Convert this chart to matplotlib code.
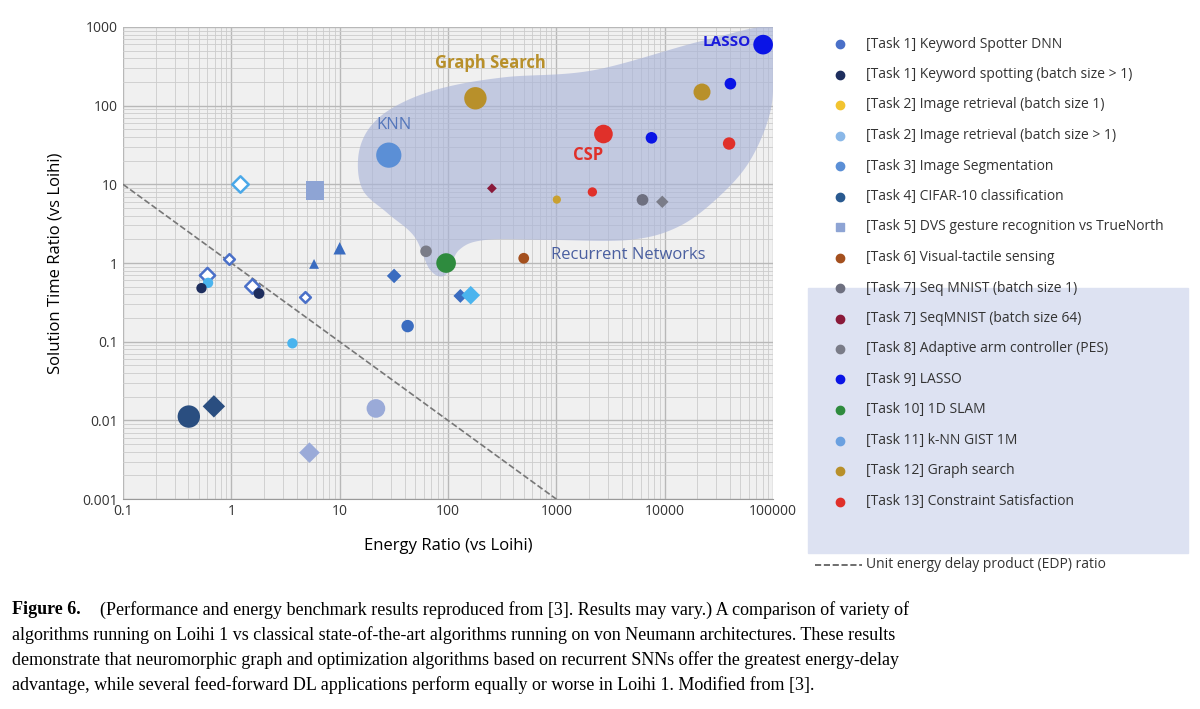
import numpy as np
import matplotlib.pyplot as plt
from matplotlib.lines import Line2D

plt.rcParams['font.family'] = ['Open Sans', 'DejaVu Sans']

# data points: energy ratio, time ratio, colour, marker, size, filled
ex = [81000, 40400, 22100, 179, 2720, 7550, 39300, 28.4, 1.19, 5.9, 254, 2150, 1010, 6240, 9500,
      10, 62.7, 96, 500, 0.946, 5.8, 0.59, 0.61, 0.53, 1.54, 1.8, 4.8, 31.8, 130, 162, 42.4, 3.66,
      0.405, 0.69, 21.6, 5.26]
ty = [596, 190, 149, 124, 43.6, 39, 33, 23.5, 10.1, 8.3, 8.9, 8.0, 6.4, 6.35, 6.0,
      1.54, 1.41, 1.0, 1.15, 1.13, 0.975, 0.706, 0.56, 0.48, 0.51, 0.41, 0.374, 0.686, 0.382, 0.39, 0.158, 0.0955,
      0.0112, 0.0151, 0.0142, 0.0039]
cols = ['#0a14e6', '#0a14e6', '#b8902a', '#b8902a', '#e0302a', '#0a14e6', '#e0302a', '#5b8fd6', '#4aa8e8', '#8ea4d4',
        '#8a1a3a', '#e0302a', '#c9a030', '#6e7080', '#7a7c88',
        '#3a6cc0', '#7a7c88', '#2e8b3e', '#a4501e', '#4a70c8', '#3a6cc0', '#4a70c8', '#4ab4ee', '#1e2e5e', '#4a70c8',
        '#1e2e5e', '#4a70c8', '#3a6cc0', '#3a6cc0', '#4ab4ee', '#3a6cc0', '#4ab4ee',
        '#2a4e80', '#2a4e80', '#9aaad8', '#9aaad8']
marks = ['o', 'o', 'o', 'o', 'o', 'o', 'o', 'o', 'D', 's', 'D', 'o', 'o', 'o', 'D',
         '^', 'o', 'o', 'o', 'D', '^', 'D', 'o', 'o', 'D', 'o', 'D', 'D', 'D', 'D', 'o', 'o',
         'o', 'D', 'o', 'D']
sizes = [200, 70, 150, 260, 180, 70, 80, 330, 70, 180, 25, 45, 35, 70, 40,
         80, 70, 200, 60, 30, 50, 60, 55, 55, 55, 60, 30, 55, 50, 90, 80, 55,
         260, 130, 180, 110]
filled = [True] * 36
filled[8] = filled[19] = filled[21] = filled[24] = filled[26] = False

# outline of the shaded "recurrent networks" region (log10 coordinates)
blob_lx = [5.0, 4.337, 3.344, 2.517, 1.937, 1.524, 1.276, 1.172, 1.213, 1.441, 1.689, 1.834, 1.979,
           2.103, 2.351, 2.930, 3.675, 4.130, 4.503, 4.792, 4.979, 5.0]
blob_ly = [3.0, 2.82, 2.45, 2.36, 2.22, 2.00, 1.72, 1.355, 0.93, 0.634, 0.337, -0.087, -0.151,
           0.167, 0.294, 0.294, 0.294, 0.464, 0.846, 1.312, 1.948, 2.584]

legend_labels = ['[Task 1] Keyword Spotter DNN', '[Task 1] Keyword spotting (batch size > 1)',
                 '[Task 2] Image retrieval (batch size 1)', '[Task 2] Image retrieval (batch size > 1)',
                 '[Task 3] Image Segmentation', '[Task 4] CIFAR-10 classification',
                 '[Task 5] DVS gesture recognition vs TrueNorth', '[Task 6] Visual-tactile sensing',
                 '[Task 7] Seq MNIST (batch size 1)', '[Task 7] SeqMNIST (batch size 64)',
                 '[Task 8] Adaptive arm controller (PES)', '[Task 9] LASSO', '[Task 10] 1D SLAM',
                 '[Task 11] k-NN GIST 1M', '[Task 12] Graph search', '[Task 13] Constraint Satisfaction']
legend_cols = ['#4a70c8', '#1e2e5e', '#f2c430', '#8ab8e8', '#5b8fd6', '#2a5a90', '#8ea4d4', '#a4501e',
               '#6e7080', '#8a1a3a', '#7a7c88', '#0a14e6', '#2e8b3e', '#6aa0e0', '#b8902a', '#e0302a']


def smooth_closed(px, py, n=20):
    # Catmull-Rom through the outline points
    px, py = np.array(px), np.array(py)
    m = len(px)
    ox, oy = [], []
    for i in range(m):
        p0, p1, p2, p3 = [(px[(i + k) % m], py[(i + k) % m]) for k in (-1, 0, 1, 2)]
        for t in np.linspace(0, 1, n, endpoint=False):
            t2, t3 = t * t, t * t * t
            for j, o in ((0, ox), (1, oy)):
                o.append(0.5 * (2 * p1[j] + (-p0[j] + p2[j]) * t + (2 * p0[j] - 5 * p1[j] + 4 * p2[j] - p3[j]) * t2
                                + (-p0[j] + 3 * p1[j] - 3 * p2[j] + p3[j]) * t3))
    return 10 ** np.array(ox), 10 ** np.array(oy)


fig = plt.figure(figsize=(12, 7.09), dpi=100)
ax = fig.add_axes([0.1025, 0.296, 0.5417, 0.666])
ax.set_facecolor('#f0f0f0')
ax.set_xscale('log')
ax.set_yscale('log')
ax.set_xlim(0.1, 100000)
ax.set_ylim(0.001, 1000)
ax.grid(True, which='major', color='#b8b8b8', lw=1.0)
ax.grid(True, which='minor', color='#cccccc', lw=0.6)
ax.set_axisbelow(True)
for s in ax.spines.values():
    s.set_visible(False)
ax.spines['bottom'].set_visible(True)
ax.spines['bottom'].set_color('#999999')
ax.tick_params(which='both', length=0, labelsize=10, colors='#333333')
ax.set_xticks([0.1, 1, 10, 100, 1000, 10000, 100000])
ax.set_xticklabels(['0.1', '1', '10', '100', '1000', '10000', '100000'])
ax.set_yticks([0.001, 0.01, 0.1, 1, 10, 100, 1000])
ax.set_yticklabels(['0.001', '0.01', '0.1', '1', '10', '100', '1000'])
ax.set_xlabel('Energy Ratio (vs Loihi)', fontsize=12, labelpad=14)
ax.set_ylabel('Solution Time Ratio (vs Loihi)', fontsize=12, labelpad=14)

bx, by = smooth_closed(blob_lx, blob_ly)
ax.fill(bx, by, color='#aab4d8', alpha=0.65, lw=0, zorder=1)

# unit EDP line
lx = np.array([0.1, 1000])
ax.plot(lx, 1.0 / lx, ls='--', color='#777777', lw=1.2, zorder=2)

for x, y, c, m, s, f in zip(ex, ty, cols, marks, sizes, filled):
    if f:
        ax.scatter(x, y, s=s, c=c, marker=m, edgecolors='none', zorder=3)
    else:
        ax.scatter(x, y, s=s, facecolors='white', edgecolors=c, marker=m, linewidths=1.8, zorder=3)

ax.text(62000, 650, 'LASSO', color='#1a1adc', fontsize=11, weight='bold', ha='right', va='center')
ax.text(245, 350, 'Graph Search', color='#b8902a', fontsize=12, weight='bold', ha='center', va='center')
ax.text(32, 56, 'KNN', color='#5577bb', fontsize=12, ha='center', va='center')
ax.text(1950, 23.5, 'CSP', color='#e0302a', fontsize=12, weight='bold', ha='center', va='center')
ax.text(890, 1.26, 'Recurrent Networks', color='#4a5fa0', fontsize=12, ha='left', va='center')

# legend drawn in figure coordinates
fig.patches.append(plt.Rectangle((808 / 1200, 1 - 553 / 709), 380 / 1200, 265 / 709,
                                 transform=fig.transFigure, color='#dde2f2', zorder=0))
for i, (lab, c) in enumerate(zip(legend_labels, legend_cols)):
    yy = 1 - (44 + i * 30.5) / 709
    mk = 's' if i == 6 else 'o'
    fig.add_artist(Line2D([840 / 1200], [yy], marker=mk, color=c, ms=6, ls='none'))
    fig.text(866 / 1200, yy, lab, fontsize=10, color='#333333', va='center')
fig.add_artist(Line2D([815 / 1200, 862 / 1200], [1 - 565 / 709] * 2, ls='--', color='#555555', lw=1.2))
fig.text(866 / 1200, 1 - 565 / 709, 'Unit energy delay product (EDP) ratio', fontsize=10, color='#333333', va='center')

cap = ['(Performance and energy benchmark results reproduced from [3]. Results may vary.) A comparison of variety of',
       'algorithms running on Loihi 1 vs classical state-of-the-art algorithms running on von Neumann architectures. These results',
       'demonstrate that neuromorphic graph and optimization algorithms based on recurrent SNNs offer the greatest energy-delay',
       'advantage, while several feed-forward DL applications perform equally or worse in Loihi 1. Modified from [3].']
fig.text(12 / 1200, 1 - 610 / 709, 'Figure 6.', fontsize=13, weight='bold', family='Liberation Serif', va='center')
fig.text(100 / 1200, 1 - 610 / 709, cap[0], fontsize=13, family='Liberation Serif', va='center')
for i in range(1, 4):
    fig.text(12 / 1200, 1 - (610 + i * 25) / 709, cap[i], fontsize=13, family='Liberation Serif', va='center')

fig.savefig('out.png', dpi=100)
